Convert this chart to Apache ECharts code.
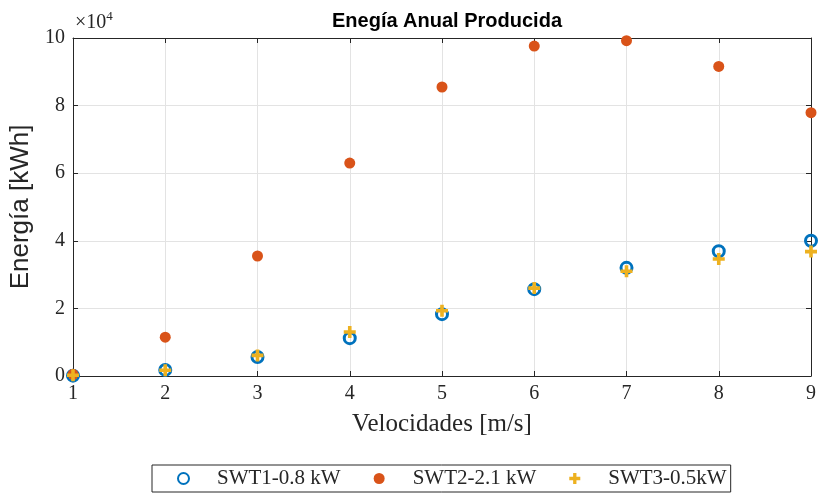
<!DOCTYPE html>
<html>
<head>
<meta charset="utf-8">
<script src="https://cdn.jsdelivr.net/npm/echarts@6/dist/echarts.min.js"></script>
<style>
html, body { margin: 0; padding: 0; background: #fff; }
#chart { width: 819px; height: 493px; }
</style>
</head>
<body>
<div id="chart"></div>
<script>
// Wind speeds (m/s) and annual energy (kWh) per turbine model
const speeds = [1, 2, 3, 4, 5, 6, 7, 8, 9];
const swt1 = [100, 1800, 5600, 11200, 18300, 25700, 32000, 36900, 40000];
const swt2 = [500, 11500, 35500, 63000, 85500, 97600, 99200, 91600, 77900];
const swt3 = [200, 1700, 6100, 13000, 19300, 26000, 31000, 34600, 36800];
const seriesNames = ['SWT1-0.8 kW', 'SWT2-2.1 kW', 'SWT3-0.5kW'];
const yTickLabels = ['0', '2', '4', '6', '8', '10'];

const serif = '"Liberation Serif", "DejaVu Serif", serif';
const sans = '"Liberation Sans", Arial, sans-serif';
const plusPath = 'path://M3.5,0H6.5V3.5H10V6.5H6.5V10H3.5V6.5H0V3.5H3.5Z';

const pairs = v => speeds.map((s, i) => [s, v[i]]);

const chart = echarts.init(document.getElementById('chart'), null, { renderer: 'canvas' });

const baseAxis = {
  axisLine: { show: true, onZero: false, lineStyle: { color: '#262626', width: 1 } },
  axisTick: { show: true, inside: true, length: 5, lineStyle: { color: '#262626' } },
  splitLine: { show: false }
};

chart.setOption({
  animation: false,
  title: {
    text: 'Enegía Anual Producida',
    left: 442, top: 6, textAlign: 'center',
    textStyle: { fontFamily: sans, fontWeight: 'bold', fontSize: 20, color: '#000' }
  },
  graphic: [{
    type: 'text', left: 75, top: 10,
    style: {
      text: '{a|×10}{b|4}',
      rich: {
        a: { fontFamily: serif, fontSize: 20, fill: '#262626' },
        b: { fontFamily: serif, fontSize: 13, fill: '#262626', verticalAlign: 'top', padding: [0, 0, 12, 0] }
      }
    }
  }],
  legend: {
    left: 152, bottom: 1,
    data: seriesNames,
    itemWidth: 11, itemHeight: 11, itemGap: 33,
    padding: [3, 4, 3, 25],
    borderColor: '#262626', borderWidth: 1,
    textStyle: { fontFamily: serif, fontSize: 21, color: '#262626', padding: [0, 0, 0, 23] }
  },
  grid: {
    left: 73, right: 8, top: 38, bottom: 117,
    show: true, borderColor: 'transparent'
  },
  xAxis: [Object.assign({}, baseAxis, {
    type: 'value', min: 1, max: 9, interval: 1, position: 'bottom',
    name: 'Velocidades [m/s]', nameLocation: 'middle', nameGap: 36,
    nameTextStyle: { fontFamily: serif, fontSize: 25, color: '#262626' },
    axisLabel: { fontFamily: serif, fontSize: 20, color: '#262626', margin: 8 },
    splitLine: { show: true, lineStyle: { color: '#e3e3e3', width: 1 } }
  }), Object.assign({}, baseAxis, {
    type: 'value', min: 1, max: 9, interval: 1, position: 'top',
    axisLabel: { show: false }
  })],
  yAxis: [Object.assign({}, baseAxis, {
    type: 'value', min: 0, max: 100000, interval: 20000, position: 'left',
    name: 'Energía [kWh]', nameLocation: 'middle', nameGap: 32,
    nameTextStyle: { fontFamily: sans, fontSize: 26, color: '#262626' },
    axisLabel: {
      fontFamily: serif, fontSize: 20, color: '#262626', margin: 8,
      formatter: v => yTickLabels[Math.round(v / 20000)]
    },
    splitLine: { show: true, lineStyle: { color: '#e3e3e3', width: 1 } }
  }), Object.assign({}, baseAxis, {
    type: 'value', min: 0, max: 100000, interval: 20000, position: 'right',
    axisLabel: { show: false }
  })],
  series: [{
    name: seriesNames[0], type: 'scatter', data: pairs(swt1), clip: false,
    symbol: 'circle', symbolSize: 11,
    itemStyle: { color: 'rgba(255,255,255,0)', borderColor: '#0072BD', borderWidth: 3, opacity: 1 },
    z: 2
  }, {
    name: seriesNames[1], type: 'scatter', data: pairs(swt2), clip: false,
    symbol: 'circle', symbolSize: 11,
    itemStyle: { color: '#D95319', opacity: 1 },
    z: 3
  }, {
    name: seriesNames[2], type: 'scatter', data: pairs(swt3), clip: false,
    symbol: plusPath, symbolSize: 12,
    itemStyle: { color: '#EDB120', opacity: 1 },
    z: 4
  }]
});
</script>
</body>
</html>
